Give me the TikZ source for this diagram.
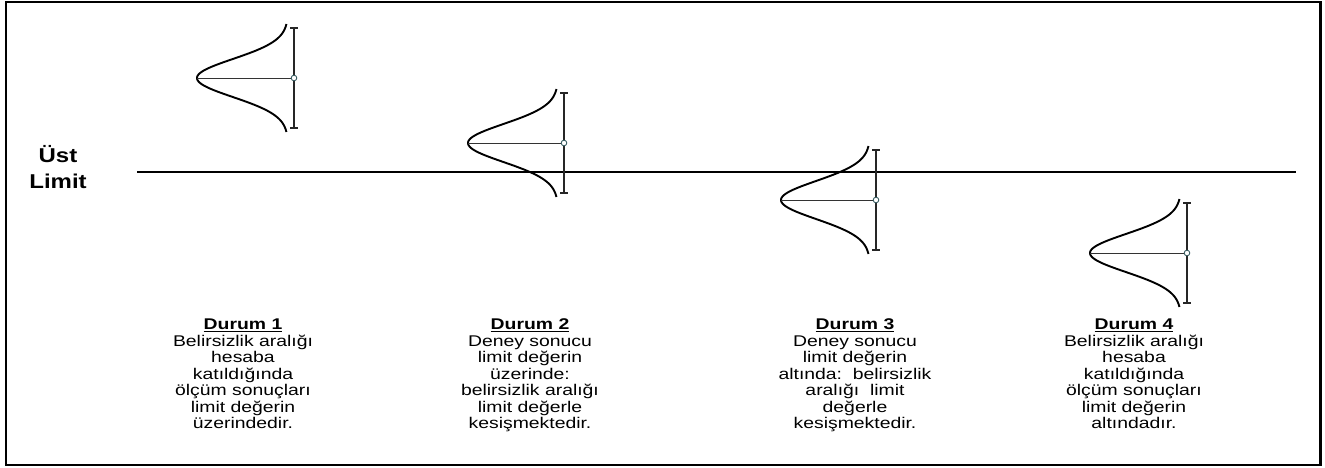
\documentclass[tikz,border=0pt]{standalone}
\usepackage{fontspec}
\setmainfont{Liberation Sans}
\newcommand\stretchtxt[1]{\scalebox{1.25}[1]{#1}}
\newcommand\stretchlim[1]{\scalebox{1.2}[1]{#1}}
\tikzset{
  frame/.style={line width=2.3pt},
  limitline/.style={line width=2.2pt},
  bellcurve/.style={line width=1.9pt, line join=round},
  barline/.style={line width=1.2pt, black!85},
  midline/.style={line width=0.7pt, black!80},
  meandot/.style={line width=0.9pt, draw={rgb,255:red,60;green,95;blue,100}, fill=white},
  casetext/.style={anchor=north, inner sep=0pt, font=\fontsize{15.5}{16.5}\selectfont},
  limittext/.style={inner sep=0pt, font=\fontsize{20}{26}\selectfont\bfseries}
}
\begin{document}
\begin{tikzpicture}[x=1pt,y=-1pt]
\useasboundingbox (0,0) rectangle (1325,467);
\draw[frame] (6,2.3) rectangle (1320.5,465);

% upper limit line
\coordinate (ls) at (137,172);
\coordinate (le) at (1296,172);
\draw[limitline] (ls) -- (le);
\node[limittext] (ust) at (58,170) {\stretchlim{\begin{tabular}{@{}c@{}}Üst\\Limit\end{tabular}}};

% bell curves with uncertainty bars
\foreach \px/\bx/\cy in {197/294/78, 468/564/143, 781/876/200, 1090/1187/253}{
  \draw[bellcurve] plot[domain=-54:54, samples=91, smooth]
    ({\px + (\bx-\px-6)*(1-exp(-(\x*\x)/(2*19*19)))}, {\cy+\x});
  \draw[barline] (\bx,\cy-50) -- (\bx,\cy+50);
  \draw[barline] (\bx-4,\cy-50) -- (\bx+4,\cy-50);
  \draw[barline] (\bx-4,\cy+50) -- (\bx+4,\cy+50);
  \draw[midline] (\px,\cy) -- (\bx,\cy);
  \draw[meandot] (\bx,\cy) circle (2.8);
}

% case descriptions
\node[casetext] (d1) at (243,318) {\stretchtxt{\begin{tabular}{@{}c@{}}\underline{\textbf{Durum 1}}\\ Belirsizlik aralığı\\ hesaba\\ katıldığında\\ ölçüm sonuçları\\ limit değerin\\ üzerindedir.\end{tabular}}};
\node[casetext] (d2) at (530,318) {\stretchtxt{\begin{tabular}{@{}c@{}}\underline{\textbf{Durum 2}}\\ Deney sonucu\\ limit değerin\\ üzerinde:\\ belirsizlik aralığı\\ limit değerle\\ kesişmektedir.\end{tabular}}};
\node[casetext] (d3) at (855,318) {\stretchtxt{\begin{tabular}{@{}c@{}}\underline{\textbf{Durum 3}}\\ Deney sonucu\\ limit değerin\\ altında:\ \ belirsizlik\\ aralığı\ \ limit\\ değerle\\ kesişmektedir.\end{tabular}}};
\node[casetext] (d4) at (1134,318) {\stretchtxt{\begin{tabular}{@{}c@{}}\underline{\textbf{Durum 4}}\\ Belirsizlik aralığı\\ hesaba\\ katıldığında\\ ölçüm sonuçları\\ limit değerin\\ altındadır.\end{tabular}}};
\end{tikzpicture}
\end{document}
